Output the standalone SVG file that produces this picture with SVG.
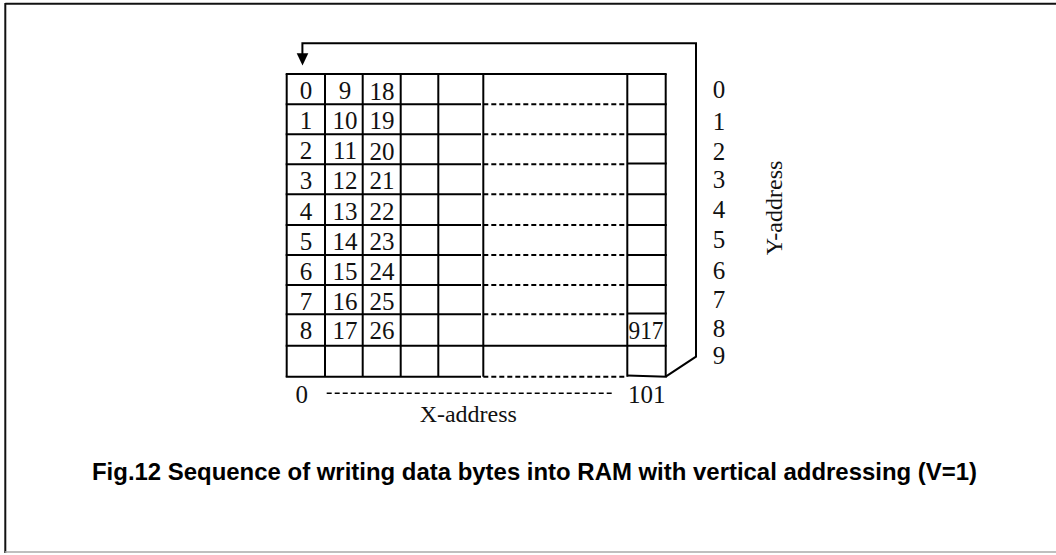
<svg xmlns="http://www.w3.org/2000/svg" width="1056" height="555" viewBox="0 0 1056 555">
<style>
.ln{stroke:#000;stroke-width:2;fill:none}
.ds{stroke:#000;stroke-width:2;fill:none;stroke-dasharray:5 3}
.cell{font-family:"Liberation Serif","Times New Roman",serif;font-size:25px;fill:#111;text-anchor:middle}
.lbl{font-family:"Liberation Serif","Times New Roman",serif;font-size:24px;fill:#111;text-anchor:middle}
.cap{font-family:"Liberation Sans",Arial,sans-serif;font-size:24px;font-weight:bold;fill:#000}
</style>
<rect width="1056" height="555" fill="#fff"/>
<g id="frame">
<line x1="5.3" y1="3.8" x2="1056" y2="3.8" stroke="#111" stroke-width="2"/>
<line x1="5.3" y1="3" x2="5.3" y2="553" stroke="#111" stroke-width="2"/>
<line x1="5" y1="552" x2="1056" y2="552" stroke="#aaa" stroke-width="1.5"/>
</g>
<g id="grid">
<line class="ln" x1="286.7" y1="74" x2="286.7" y2="376.7"/>
<line class="ln" x1="325" y1="74" x2="325" y2="376.7"/>
<line class="ln" x1="362.7" y1="74" x2="362.7" y2="376.7"/>
<line class="ln" x1="400.7" y1="74" x2="400.7" y2="376.7"/>
<line class="ln" x1="438.3" y1="74" x2="438.3" y2="376.7"/>
<line class="ln" x1="483.3" y1="74" x2="483.3" y2="376.7"/>
<line class="ln" x1="627.3" y1="74" x2="627.3" y2="376.7"/>
<line class="ln" x1="665.7" y1="74" x2="665.7" y2="376.7"/>
<line class="ln" x1="285.7" y1="74" x2="666.7" y2="74"/>
<line class="ln" x1="285.7" y1="345.7" x2="666.7" y2="345.7"/>
<path class="ln" d="M285.7 104.3H481M627.3 104.3H666.7M285.7 134.3H481M627.3 134.3H666.7M285.7 164.3H481M627.3 163.5H666.7M285.7 194.3H481M627.3 194.3H666.7M285.7 225H481M627.3 225H666.7M285.7 255H481M627.3 255H666.7M285.7 285H481M627.3 285H666.7M285.7 314.3H481M627.3 313.5H666.7M285.7 376.7H481M627.3 375.5L666.7 376.7"/>
<path class="ds" d="M483.3 104.3H627.3M483.3 134.3H627.3M483.3 164.3H627.3M483.3 194.3H627.3M483.3 225H627.3M483.3 255H627.3M483.3 285H627.3M483.3 314.3H627.3M483.3 376.7H627.3"/>
</g>
<g id="cells">
<text class="cell" x="306" y="98.7">0</text><text class="cell" x="345" y="98.7">9</text><text class="cell" x="382" y="100">18</text>
<text class="cell" x="306" y="129">1</text><text class="cell" x="345" y="129">10</text><text class="cell" x="382" y="129">19</text>
<text class="cell" x="306" y="159">2</text><text class="cell" x="345" y="159">11</text><text class="cell" x="382" y="160">20</text>
<text class="cell" x="306" y="189">3</text><text class="cell" x="345" y="189">12</text><text class="cell" x="382" y="189">21</text>
<text class="cell" x="306" y="219.5">4</text><text class="cell" x="345" y="219.5">13</text><text class="cell" x="382" y="220">22</text>
<text class="cell" x="306" y="249.5">5</text><text class="cell" x="345" y="249.5">14</text><text class="cell" x="382" y="250">23</text>
<text class="cell" x="306" y="279.5">6</text><text class="cell" x="345" y="279.5">15</text><text class="cell" x="382" y="280">24</text>
<text class="cell" x="306" y="309.5">7</text><text class="cell" x="345" y="309.5">16</text><text class="cell" x="382" y="309.5">25</text>
<text class="cell" x="306" y="339.3">8</text><text class="cell" x="345" y="339.3">17</text><text class="cell" x="382" y="339.3">26</text>
<text class="cell" x="646" y="339.3" textLength="35" lengthAdjust="spacingAndGlyphs">917</text>
</g>
<g id="y-labels">
<text class="cell" x="719" y="98.3">0</text>
<text class="cell" x="719" y="129.5">1</text>
<text class="cell" x="719" y="159.5">2</text>
<text class="cell" x="719" y="188">3</text>
<text class="cell" x="719" y="218">4</text>
<text class="cell" x="719" y="248">5</text>
<text class="cell" x="719" y="279">6</text>
<text class="cell" x="719" y="308">7</text>
<text class="cell" x="719" y="337">8</text>
<text class="cell" x="719" y="363.5">9</text>
<text class="lbl" transform="translate(782,208) rotate(-90)" x="0" y="0">Y-address</text>
</g>
<g id="x-labels">
<text class="cell" x="301.7" y="403.3">0</text>
<text class="cell" x="646.7" y="403.3">101</text>
<line x1="326.7" y1="393.3" x2="613.3" y2="393.3" stroke="#000" stroke-width="1.5" stroke-dasharray="5 3"/>
<text class="lbl" x="468.3" y="421.5">X-address</text>
</g>
<g id="connectors">
<path class="ln" d="M302.4 54V43.3H696V356.7L665.7 376.7"/>
<polygon points="296.7,53.3 308.3,53.3 302.5,65.5" fill="#000"/>
</g>
<g id="caption">
<text class="cap" x="92" y="480" textLength="885" lengthAdjust="spacingAndGlyphs">Fig.12 Sequence of writing data bytes into RAM with vertical addressing (V=1)</text>
</g>
</svg>
